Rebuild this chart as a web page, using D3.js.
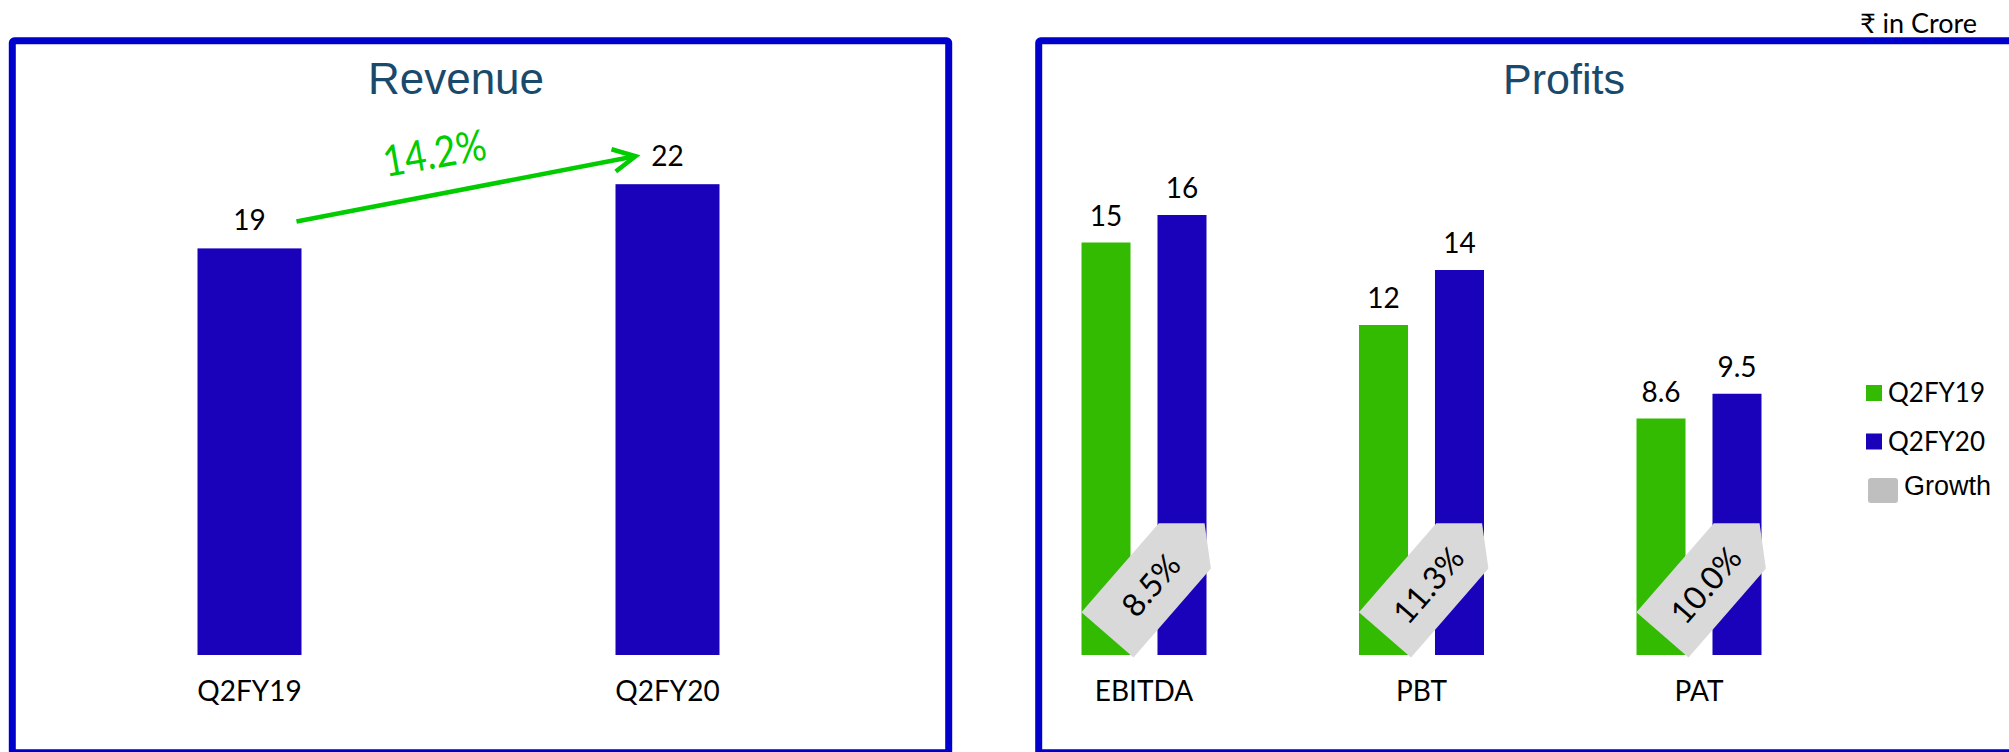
<!DOCTYPE html>
<html>
<head>
<meta charset="utf-8">
<script src="https://cdn.jsdelivr.net/npm/d3@7"></script>
<style>
  html, body { margin: 0; padding: 0; background: #fff; }
  svg { display: block; }
</style>
</head>
<body>
<svg id="chart" width="2009" height="752"></svg>
<script>
// Quarterly figures, ₹ in Crore
const periods = ["Q2FY19", "Q2FY20"];
const revenue = [19, 22];
const revenueGrowth = "14.2%";

const metrics = ["EBITDA", "PBT", "PAT"];
const profitsQ2FY19 = [15, 12, 8.6];
const profitsQ2FY20 = [16, 14, 9.5];
const growthLabels = ["8.5%", "11.3%", "10.0%"];

const legendItems = ["Q2FY19", "Q2FY20", "Growth"];

const BLUE = "#1a02bb";
const GREEN = "#33bb02";
const FRAME = "#0000cc";
const TITLE = "#1a4a6b";
const ARROW = "#00cc00";
const LABEL_FONT = "Lato, 'Noto Sans', 'DejaVu Sans', sans-serif";
const TITLE_FONT = "'Liberation Sans', Arial, sans-serif";

const svg = d3.select("#chart");

// ---- panel frames ----
svg.append("rect")
  .attr("x", 12.3).attr("y", 40.8).attr("width", 936.4).attr("height", 712)
  .attr("rx", 2).attr("fill", "none").attr("stroke", FRAME).attr("stroke-width", 7);
svg.append("rect")
  .attr("x", 1038.7).attr("y", 40.8).attr("width", 1000).attr("height", 712)
  .attr("rx", 2).attr("fill", "none").attr("stroke", FRAME).attr("stroke-width", 7);

// unit note
svg.append("text")
  .attr("x", 1977).attr("y", 33).attr("text-anchor", "end")
  .attr("font-family", LABEL_FONT).attr("font-size", 27).attr("fill", "#000")
  .text("₹ in Crore");

// titles
svg.append("text").attr("x", 456).attr("y", 94).attr("text-anchor", "middle")
  .attr("font-family", TITLE_FONT).attr("font-size", 44).attr("fill", TITLE)
  .text("Revenue");
svg.append("text").attr("x", 1564).attr("y", 94).attr("text-anchor", "middle")
  .attr("font-family", TITLE_FONT).attr("font-size", 43).attr("fill", TITLE)
  .text("Profits");

// ---- Revenue chart ----
const baseY = 655;
const xRev = d3.scalePoint().domain(periods).range([249.5, 667.5]);
const yRev = d3.scaleLinear().domain([0, 25]).range([baseY, baseY - 25 * 21.4]);
const revBarW = 104;

const rev = svg.append("g");
rev.selectAll("rect").data(periods).join("rect")
  .attr("x", d => xRev(d) - revBarW / 2)
  .attr("y", (d, i) => yRev(revenue[i]))
  .attr("width", revBarW)
  .attr("height", (d, i) => yRev(0) - yRev(revenue[i]))
  .attr("fill", BLUE);

rev.selectAll("text.val").data(periods).join("text")
  .attr("class", "val")
  .attr("x", d => xRev(d))
  .attr("y", (d, i) => yRev(revenue[i]) - 18)
  .attr("text-anchor", "middle")
  .attr("font-family", LABEL_FONT).attr("font-size", 28).attr("fill", "#000")
  .text((d, i) => d3.format("~g")(revenue[i]));

rev.selectAll("text.cat").data(periods).join("text")
  .attr("class", "cat")
  .attr("x", d => xRev(d)).attr("y", 701)
  .attr("text-anchor", "middle")
  .attr("font-family", LABEL_FONT).attr("font-size", 28).attr("fill", "#000")
  .text(d => d);

// growth arrow between the two revenue labels
const a0 = [xRev(periods[0]) + 47, yRev(revenue[0]) - 27];
const a1 = [xRev(periods[1]) - 32, yRev(revenue[1]) - 28];
const ang = Math.atan2(a1[1] - a0[1], a1[0] - a0[0]);
const headLen = 25, headSpread = 27 * Math.PI / 180;
const arrowG = svg.append("g")
  .attr("fill", "none").attr("stroke", ARROW)
  .attr("stroke-width", 4.6).attr("stroke-linecap", "butt").attr("stroke-linejoin", "miter");
arrowG.append("line")
  .attr("x1", a0[0]).attr("y1", a0[1])
  .attr("x2", a1[0] - 3 * Math.cos(ang)).attr("y2", a1[1] - 3 * Math.sin(ang));
arrowG.append("path").attr("d", d3.line()([
  [a1[0] - headLen * Math.cos(ang - headSpread), a1[1] - headLen * Math.sin(ang - headSpread)],
  a1,
  [a1[0] - headLen * Math.cos(ang + headSpread), a1[1] - headLen * Math.sin(ang + headSpread)]
]));
const midX = (a0[0] + a1[0]) / 2 - 29;
svg.append("text")
  .attr("transform", `translate(${midX},168) rotate(-10)`)
  .attr("text-anchor", "middle")
  .attr("font-family", LABEL_FONT).attr("font-weight", 400)
  .attr("font-size", 43).attr("fill", ARROW)
  .attr("textLength", 104).attr("lengthAdjust", "spacingAndGlyphs")
  .text(revenueGrowth);

// ---- Profits chart ----
const x0 = d3.scalePoint().domain(metrics).range([1144, 1699]);
const x1 = d3.scaleBand().domain(["Q2FY19", "Q2FY20"]).range([-62.5, 62.5]).paddingInner(0.355);
const yPro = d3.scaleLinear().domain([0, 20]).range([baseY, baseY - 20 * 27.5]);
const series = [
  { key: "Q2FY19", values: profitsQ2FY19, color: GREEN },
  { key: "Q2FY20", values: profitsQ2FY20, color: BLUE }
];

const pro = svg.append("g");
series.forEach(s => {
  const g = pro.append("g");
  g.selectAll("rect").data(metrics).join("rect")
    .attr("x", d => x0(d) + x1(s.key))
    .attr("y", (d, i) => yPro(s.values[i]))
    .attr("width", x1.bandwidth())
    .attr("height", (d, i) => yPro(0) - yPro(s.values[i]))
    .attr("fill", s.color);
  g.selectAll("text").data(metrics).join("text")
    .attr("x", d => x0(d) + x1(s.key) + x1.bandwidth() / 2)
    .attr("y", (d, i) => yPro(s.values[i]) - 17)
    .attr("text-anchor", "middle")
    .attr("font-family", LABEL_FONT).attr("font-size", 28).attr("fill", "#000")
    .text((d, i) => d3.format("~g")(s.values[i]));
});

pro.selectAll("text.cat").data(metrics).join("text")
  .attr("class", "cat")
  .attr("x", d => x0(d)).attr("y", 701)
  .attr("text-anchor", "middle")
  .attr("font-family", LABEL_FONT).attr("font-size", 28).attr("fill", "#000")
  .text(d => d);

// growth callouts: home-plate arrows tilted up-right across each bar pair
const L = 148, W = 69, tip = 30;
const plate = [[-L / 2, -W / 2], [L / 2 - tip, -W / 2], [L / 2, 0], [L / 2 - tip, W / 2], [-L / 2, W / 2]];
const callouts = pro.selectAll("g.callout").data(metrics).join("g")
  .attr("class", "callout")
  .attr("transform", d => `translate(${x0(d) + 12},579) rotate(-49)`);
callouts.append("path")
  .attr("d", d3.line()(plate) + "Z")
  .attr("fill", "#d9d9d9");
callouts.append("text")
  .attr("x", -8).attr("y", 0)
  .attr("dy", "0.36em")
  .attr("text-anchor", "middle")
  .attr("font-family", LABEL_FONT).attr("font-size", 32).attr("fill", "#000")
  .text((d, i) => growthLabels[i]);

// ---- legend ----
const legend = svg.append("g");
const legendY = d3.scalePoint().domain(legendItems).range([393, 490]);
legend.selectAll("rect").data(legendItems).join("rect")
  .attr("x", d => d === "Growth" ? 1868 : 1866)
  .attr("y", d => d === "Growth" ? legendY(d) - 12 : legendY(d) - 8)
  .attr("width", d => d === "Growth" ? 30 : 16)
  .attr("height", d => d === "Growth" ? 25 : 16)
  .attr("rx", d => d === "Growth" ? 3 : 0)
  .attr("fill", d => d === "Growth" ? "#bfbfbf" : (d === "Q2FY19" ? GREEN : BLUE));
legend.selectAll("text").data(legendItems).join("text")
  .attr("x", d => d === "Growth" ? 1904 : 1888)
  .attr("y", d => d === "Growth" ? legendY(d) + 5 : legendY(d) + 9)
  .attr("font-family", d => d === "Growth" ? TITLE_FONT : LABEL_FONT)
  .attr("font-size", d => d === "Growth" ? 27 : 26)
  .attr("fill", "#000")
  .text(d => d);
</script>
</body>
</html>
